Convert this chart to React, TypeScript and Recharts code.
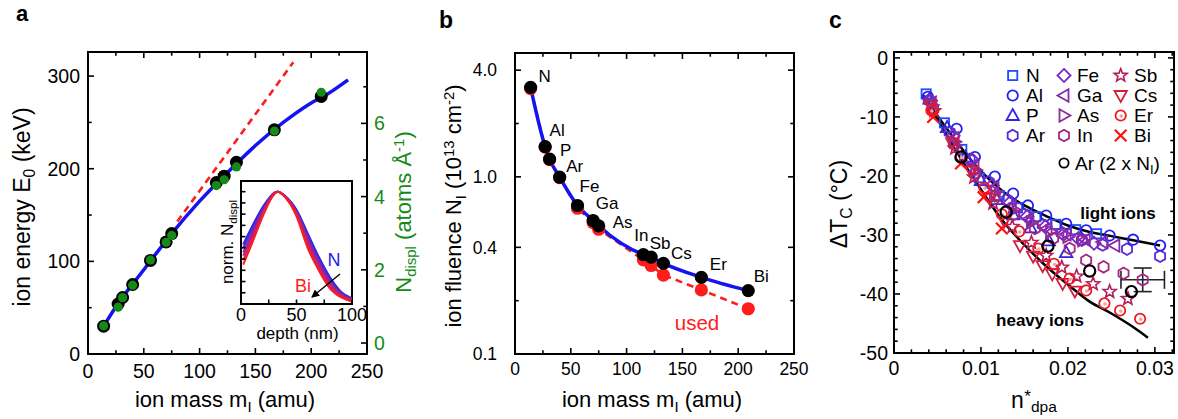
import React from "react";
import { ComposedChart, LineChart, Line, Scatter, XAxis, YAxis, ErrorBar } from "recharts";

const FONT = "'Liberation Sans', Arial, Helvetica, sans-serif";
const PAGE_W = 1178;
const PAGE_H = 419;
const GREEN = "#168a16";
const BLUE = "#1414f0";
const RED = "#ff1c1c";

// ---- panels a and b: one entry per ion ----
const ionNames = ["N", "Al", "P", "Ar", "Fe", "Ga", "As", "In", "Sb", "Cs", "Er", "Bi"];
const ionMass = [14, 27, 31, 40, 56, 70, 75, 115, 122, 133, 167, 209];
const ionEnergy = [30, 54, 61, 75, 101, 121, 130, 185, 192, 207, 242, 278];
const displPerAngstrom = [0.47, 0.98, 1.24, 1.58, 2.27, 2.75, 2.94, 4.3, 4.46, 4.81, 5.79, 6.85];
const energyFitMass = [13, 25, 50, 75, 100, 125, 150, 175, 200, 215, 233];
const energyFit = [28, 51, 91, 130, 165, 196, 225, 250, 271, 281, 296];
const linearMass = [80, 184];
const linearEnergy = [143, 315];
const fluenceCalc = [3.2, 1.48, 1.26, 0.995, 0.689, 0.567, 0.529, 0.364, 0.352, 0.325, 0.271, 0.228];
const fluenceUsed = [3.15, 1.47, 1.25, 0.99, 0.665, 0.552, 0.506, 0.34, 0.316, 0.279, 0.23, 0.18];

// ---- inset: normalised displacement profiles, N (blue) ... Bi (red) ----
const depth = [2, 10, 20, 30, 33, 40, 50, 60, 70, 80, 90, 100];
const profileN = [0.53, 0.69, 0.87, 0.99, 1.0, 0.96, 0.84, 0.63, 0.42, 0.24, 0.11, 0.05];
const profileAr = [0.5, 0.66, 0.85, 0.99, 1.0, 0.96, 0.83, 0.61, 0.4, 0.22, 0.1, 0.045];
const profileFe = [0.46, 0.63, 0.84, 0.99, 1.0, 0.955, 0.82, 0.59, 0.37, 0.2, 0.09, 0.04];
const profileAs = [0.43, 0.6, 0.82, 0.98, 1.0, 0.95, 0.81, 0.56, 0.35, 0.18, 0.08, 0.035];
const profileSb = [0.39, 0.57, 0.81, 0.98, 1.0, 0.95, 0.8, 0.53, 0.32, 0.16, 0.07, 0.03];
const profileBi = [0.35, 0.54, 0.79, 0.98, 1.0, 0.95, 0.78, 0.5, 0.3, 0.14, 0.06, 0.02];
const profiles = [profileN, profileAr, profileFe, profileAs, profileSb, profileBi];
const profileColors = ["#2424e8", "#5626cc", "#8624ac", "#ac2288", "#d62052", RED];

// ---- panel c: delta Tc vs n_dpa ----
const cN = [[0.0037, -6.1], [0.0058, -11.0], [0.0078, -15.5], [0.0098, -20.3], [0.0121, -23.3], [0.0142, -25.4], [0.0163, -26.9], [0.0186, -28.2], [0.0209, -29.1], [0.0233, -29.8]];
const cAl = [[0.0039, -6.6], [0.0072, -12.0], [0.0093, -16.8], [0.0116, -20.1], [0.0137, -23.0], [0.0154, -25.0], [0.0175, -26.7], [0.0198, -28.1], [0.0221, -29.2], [0.0248, -30.1], [0.0275, -30.8], [0.0306, -31.8]];
const cP = [[0.0041, -7.0], [0.0061, -11.8], [0.0082, -16.8], [0.01, -20.8], [0.0118, -24.0], [0.0137, -26.6], [0.0157, -28.8], [0.0178, -31.0], [0.0198, -33.0]];
const cAr = [[0.004, -7.2], [0.0064, -12.6], [0.0087, -17.2], [0.0109, -21.0], [0.013, -24.0], [0.015, -26.5], [0.0171, -28.3], [0.0193, -29.7], [0.0216, -30.9], [0.024, -31.7], [0.0268, -32.4], [0.0306, -33.6]];
const cFe = [[0.0042, -7.3], [0.0068, -13.2], [0.009, -17.3], [0.0113, -21.6], [0.0133, -24.6], [0.0153, -26.9], [0.0174, -28.6], [0.0195, -29.9], [0.0212, -30.6], [0.023, -31.4]];
const cGa = [[0.0043, -7.6], [0.0069, -13.6], [0.0092, -18.2], [0.0115, -22.0], [0.0135, -25.1], [0.0155, -27.3], [0.0176, -28.9], [0.0198, -29.9], [0.022, -30.8], [0.024, -31.2], [0.0254, -31.8]];
const cAs = [[0.0044, -8.0], [0.007, -14.2], [0.0094, -19.0], [0.0117, -22.7], [0.0138, -25.7], [0.0158, -27.9], [0.018, -29.4], [0.02, -30.3], [0.0217, -30.9]];
const cIn = [[0.0045, -8.5], [0.0069, -14.6], [0.0093, -19.6], [0.0116, -23.4], [0.0138, -26.5], [0.0162, -28.9], [0.0183, -30.6], [0.0202, -32.3], [0.0221, -34.3], [0.0241, -35.4], [0.0264, -36.5]];
const cInErr = [[0.0286, -37.6]];
const cInErrX = [0.0025];
const cInErrY = [2.0];
const cSb = [[0.0046, -9.0], [0.007, -15.3], [0.0092, -20.2], [0.0114, -24.6], [0.0136, -28.6], [0.0158, -31.3], [0.0175, -33.5], [0.0193, -35.5], [0.021, -37.0], [0.0229, -38.3], [0.0248, -39.6], [0.0269, -40.8]];
const cCs = [[0.0042, -8.0], [0.0067, -14.4], [0.0089, -19.2], [0.011, -23.8], [0.0127, -27.6], [0.0145, -31.8], [0.016, -33.6], [0.0171, -35.2], [0.0182, -36.6], [0.0194, -38.2], [0.0208, -39.5]];
const cEr = [[0.0043, -8.9], [0.0077, -16.8], [0.0104, -22.0], [0.0124, -26.5], [0.0144, -29.4], [0.0166, -32.3], [0.0184, -34.9], [0.0202, -37.4], [0.0221, -39.4], [0.0242, -41.6], [0.026, -42.8], [0.0283, -44.2]];
const cBi = [[0.0045, -10.0], [0.0077, -17.9], [0.0103, -23.6], [0.0124, -28.9]];
const cAr2 = [[0.0077, -16.8], [0.0129, -26.1], [0.0177, -31.9], [0.0225, -36.1], [0.0273, -39.6]];
const lightFit = [[0.0033, -6.3], [0.005, -9.8], [0.0075, -14.8], [0.01, -19.2], [0.0125, -22.6], [0.015, -25.0], [0.0175, -26.8], [0.02, -28.4], [0.0225, -29.5], [0.025, -30.2], [0.0275, -30.9], [0.0306, -31.8]];
const heavyFit = [[0.0033, -6.3], [0.005, -10.4], [0.0075, -16.6], [0.01, -22.3], [0.0125, -27.6], [0.015, -31.7], [0.0175, -35.3], [0.02, -38.4], [0.0225, -41.3], [0.025, -43.3], [0.0275, -45.6], [0.0292, -47.4]];

// ---- ticks ----
const massTicks = [0, 25, 50, 75, 100, 125, 150, 175, 200, 225, 250];
const massLabeled = [0, 50, 100, 150, 200, 250];
const massLabels = ["0", "50", "100", "150", "200", "250"];
const energyTicks = [0, 50, 100, 150, 200, 250, 300];
const energyLabeled = [0, 100, 200, 300];
const energyLabels = ["0", "100", "200", "300"];
const displTicks = [0, 1, 2, 3, 4, 5, 6, 7];
const displLabeled = [0, 2, 4, 6];
const displLabels = ["0", "2", "4", "6"];
const fluenceTicks = [0.1, 0.2, 0.4, 1, 2, 4];
const fluenceLabeled = [0.1, 0.4, 1, 4];
const fluenceLabels = ["0.1", "0.4", "1.0", "4.0"];
const dpaTicks = [0, 0.002, 0.004, 0.006, 0.008, 0.01, 0.012, 0.014, 0.016, 0.018, 0.02, 0.022, 0.024, 0.026, 0.028, 0.03, 0.032];
const dpaLabeled = [0, 0.01, 0.02, 0.03];
const dpaLabels = ["0", "0.01", "0.02", "0.03"];
const dTcTicks = [-50, -48, -46, -44, -42, -40, -38, -36, -34, -32, -30, -28, -26, -24, -22, -20, -18, -16, -14, -12, -10, -8, -6, -4, -2, 0];
const dTcLabeled = [-50, -40, -30, -20, -10, 0];
const dTcLabels = ["-50", "-40", "-30", "-20", "-10", "0"];
const depthTicks = [0, 25, 50, 75, 100];
const depthLabeled = [0, 50, 100];
const depthLabels = ["0", "50", "100"];
const normTicks = [0.1, 0.2, 0.3, 0.4, 0.5, 0.6, 0.7, 0.8, 0.9, 1.0];

type Pt = { x: number; y: number; name?: string };
const toXY = (xs: number[], ys: number[]): Pt[] => xs.map((x, i) => ({ x, y: ys[i] }));
const fromPairs = (p: number[][]): Pt[] => p.map(([x, y]) => ({ x, y }));

const labelFrom = (values: number[], texts: string[]) => (v: number) => {
  const i = values.findIndex((w) => Math.abs(w - v) < 1e-9);
  return i >= 0 ? texts[i] : null;
};
const onStep = (step: number) => (v: number) => Math.abs(v / step - Math.round(v / step)) < 1e-6;

type Side = "bottom" | "top" | "left" | "right";
type TickSpec = {
  side: Side;
  label?: (v: number) => string | null;
  major?: (v: number) => boolean;
  size?: number;
  offset?: number;
  color?: string;
  len?: number;
};

// ticks point inward, labels sit outside the frame
const makeTick = (s: TickSpec) => (props: any) => {
  const { x, y, payload } = props;
  const v = Number(payload?.value);
  const text = s.label ? s.label(v) : null;
  const major = s.major ? s.major(v) : text !== null;
  const full = s.len ?? 6;
  const len = major ? full : full * 0.62;
  const fs = s.size ?? 19;
  const off = s.offset ?? 8;
  let x2 = x;
  let y2 = y;
  if (s.side === "bottom") y2 = y - len;
  if (s.side === "top") y2 = y + len;
  if (s.side === "left") x2 = x + len;
  if (s.side === "right") x2 = x - len;
  let tx = x;
  let ty = y + off;
  let anchor: "middle" | "end" | "start" = "middle";
  if (s.side === "left") {
    tx = x - off;
    ty = y + fs * 0.36;
    anchor = "end";
  }
  if (s.side === "right") {
    tx = x + off;
    ty = y + fs * 0.36;
    anchor = "start";
  }
  return (
    <g>
      <line x1={x} y1={y} x2={x2} y2={y2} stroke="#000" strokeWidth={1.6} />
      {text !== null && (
        <text x={tx} y={ty} textAnchor={anchor} fontSize={fs} fontFamily={FONT} fill={s.color ?? "#000"}>
          {text}
        </text>
      )}
    </g>
  );
};

const axisCommon = {
  type: "number" as const,
  axisLine: false,
  tickLine: false,
  tickSize: 0,
  tickMargin: 0,
  interval: 0 as const,
  allowDataOverflow: true,
};

// ---- markers for panel c ----
type Kind = "square" | "circle" | "triUp" | "hexagon" | "diamond" | "triLeft" | "triRight" | "star" | "triDown" | "circleDot" | "cross" | "ring";

const poly = (cx: number, cy: number, pts: number[][]) => pts.map(([dx, dy]) => `${cx + dx},${cy + dy}`).join(" ");
const hexPts = [0, 1, 2, 3, 4, 5].map((k) => {
  const a = (Math.PI / 180) * (-90 + 60 * k);
  return [5.8 * Math.cos(a), 5.8 * Math.sin(a)];
});
const starPts = [0, 1, 2, 3, 4, 5, 6, 7, 8, 9].map((k) => {
  const a = (Math.PI / 180) * (-90 + 36 * k);
  const r = k % 2 === 0 ? 6.8 : 2.9;
  return [r * Math.cos(a), r * Math.sin(a)];
});

function Marker({ kind, cx, cy, color }: { kind: Kind; cx: number; cy: number; color: string }) {
  const st = { fill: "none", stroke: color, strokeWidth: 1.8 };
  switch (kind) {
    case "square":
      return <rect x={cx - 4.6} y={cy - 4.6} width={9.2} height={9.2} {...st} />;
    case "circle":
      return <circle cx={cx} cy={cy} r={5.2} {...st} />;
    case "triUp":
      return <polygon points={poly(cx, cy, [[0, -6.5], [6.2, 4.5], [-6.2, 4.5]])} {...st} />;
    case "triDown":
      return <polygon points={poly(cx, cy, [[0, 6.5], [6.2, -4.5], [-6.2, -4.5]])} {...st} />;
    case "triLeft":
      return <polygon points={poly(cx, cy, [[-6.5, 0], [4.5, -6.2], [4.5, 6.2]])} {...st} />;
    case "triRight":
      return <polygon points={poly(cx, cy, [[6.5, 0], [-4.5, -6.2], [-4.5, 6.2]])} {...st} />;
    case "hexagon":
      return <polygon points={poly(cx, cy, hexPts)} {...st} />;
    case "diamond":
      return <polygon points={poly(cx, cy, [[0, -6.6], [6.6, 0], [0, 6.6], [-6.6, 0]])} {...st} />;
    case "star":
      return <polygon points={poly(cx, cy, starPts)} {...st} strokeWidth={1.6} />;
    case "circleDot":
      return (
        <g>
          <circle cx={cx} cy={cy} r={5.2} {...st} />
          <circle cx={cx + 0.6} cy={cy + 0.6} r={1.8} fill="#f3a3a3" />
        </g>
      );
    case "cross":
      return (
        <g stroke={color} strokeWidth={2.2}>
          <line x1={cx - 5.8} y1={cy - 5.8} x2={cx + 5.8} y2={cy + 5.8} />
          <line x1={cx - 5.8} y1={cy + 5.8} x2={cx + 5.8} y2={cy - 5.8} />
        </g>
      );
    default:
      return <circle cx={cx} cy={cy} r={5.6} fill="none" stroke={color} strokeWidth={2.2} />;
  }
}

const cSeries: { name: string; kind: Kind; color: string; data: number[][] }[] = [
  { name: "N", kind: "square", color: "#1f4cff", data: cN },
  { name: "Al", kind: "circle", color: "#2020f4", data: cAl },
  { name: "P", kind: "triUp", color: "#3522e2", data: cP },
  { name: "Ar", kind: "hexagon", color: "#5a2ad0", data: cAr },
  { name: "Fe", kind: "diamond", color: "#782ac0", data: cFe },
  { name: "Ga", kind: "triLeft", color: "#8628ac", data: cGa },
  { name: "As", kind: "triRight", color: "#92289c", data: cAs },
  { name: "In", kind: "hexagon", color: "#a42880", data: cIn },
  { name: "Sb", kind: "star", color: "#b01e5c", data: cSb },
  { name: "Cs", kind: "triDown", color: "#d41e3c", data: cCs },
  { name: "Er", kind: "circleDot", color: "#ec1c22", data: cEr },
  { name: "Bi", kind: "cross", color: "#ff0f0f", data: cBi },
];

const ionLabelOffset: Record<string, number[]> = {
  N: [14, -11], Al: [12, -17], P: [16, -9], Ar: [15, -11], Fe: [12, -19], Ga: [14, -17],
  As: [24, -4], In: [-2, -20], Sb: [9, -14], Cs: [18, -10], Er: [17, -13], Bi: [13, -15],
};

const layer: React.CSSProperties = { position: "absolute", left: 0, top: 0 };

function Frame({ x0, y0, x1, y1, bg }: { x0: number; y0: number; x1: number; y1: number; bg?: string }) {
  return (
    <div
      style={{
        position: "absolute",
        left: x0 - 1,
        top: y0 - 1,
        width: x1 - x0 + 2,
        height: y1 - y0 + 2,
        border: "2px solid #000",
        boxSizing: "border-box",
        background: bg ?? "transparent",
      }}
    />
  );
}

const Sub = ({ children }: { children: React.ReactNode }) => (
  <span style={{ fontSize: "0.68em", position: "relative", top: "0.32em" }}>{children}</span>
);
const Sup = ({ children }: { children: React.ReactNode }) => (
  <span style={{ fontSize: "0.68em", position: "relative", top: "-0.45em" }}>{children}</span>
);

function HText({ cx, baseline, size, color, bold, children }: { cx: number; baseline: number; size: number; color?: string; bold?: boolean; children: React.ReactNode }) {
  return (
    <div
      style={{
        position: "absolute",
        left: cx,
        top: baseline - 0.8465 * size,
        transform: "translateX(-50%)",
        fontSize: size,
        lineHeight: `${size}px`,
        fontFamily: FONT,
        color: color ?? "#000",
        fontWeight: bold ? 700 : 400,
        whiteSpace: "nowrap",
      }}
    >
      {children}
    </div>
  );
}

function VText({ cx, cy, size, color, children }: { cx: number; cy: number; size: number; color?: string; children: React.ReactNode }) {
  return (
    <div
      style={{
        position: "absolute",
        left: cx,
        top: cy,
        transform: "translate(-50%, -50%) rotate(-90deg)",
        fontSize: size,
        lineHeight: `${size}px`,
        fontFamily: FONT,
        color: color ?? "#000",
        whiteSpace: "nowrap",
      }}
    >
      {children}
    </div>
  );
}

function PanelA() {
  const pts = ionMass.map((m, i) => ({ x: m, y: ionEnergy[i] }));
  const green = ionMass.map((m, i) => ({ x: m, y: displPerAngstrom[i] }));
  return (
    <div style={layer}>
      <ComposedChart width={PAGE_W} height={PAGE_H} margin={{ top: 0, right: 0, bottom: 0, left: 0 }}>
        <XAxis xAxisId="b" dataKey="x" domain={[0, 250]} ticks={massTicks} height={65}
          tick={makeTick({ side: "bottom", label: labelFrom(massLabeled, massLabels), size: 19.5, offset: 24 })} {...axisCommon} />
        <XAxis xAxisId="t" orientation="top" dataKey="x" domain={[0, 250]} ticks={massTicks} height={52}
          tick={makeTick({ side: "top", major: onStep(50) })} {...axisCommon} />
        <YAxis yAxisId="l" dataKey="y" domain={[0, 326]} ticks={energyTicks} width={88}
          tick={makeTick({ side: "left", label: labelFrom(energyLabeled, energyLabels), size: 19.5, offset: 8 })} {...axisCommon} />
        <YAxis yAxisId="g" orientation="right" dataKey="y" domain={[-0.3, 7.95]} ticks={displTicks} width={PAGE_W - 367}
          tick={makeTick({ side: "right", label: labelFrom(displLabeled, displLabels), size: 19.5, offset: 7, color: GREEN })} {...axisCommon} />
        <Line xAxisId="b" yAxisId="l" data={toXY(energyFitMass, energyFit)} dataKey="y" type="monotone"
          stroke={BLUE} strokeWidth={3.5} dot={false} isAnimationActive={false} />
        <Line xAxisId="b" yAxisId="l" data={toXY(linearMass, linearEnergy)} dataKey="y" type="linear"
          stroke={RED} strokeWidth={2.6} strokeDasharray="7 5" dot={false} isAnimationActive={false} />
        <Scatter xAxisId="b" yAxisId="l" data={pts} dataKey="y" isAnimationActive={false}
          shape={(p: any) => <circle cx={p.cx} cy={p.cy} r={6.5} fill="#000" />} />
        <Scatter xAxisId="b" yAxisId="g" data={green} dataKey="y" isAnimationActive={false}
          shape={(p: any) => <circle cx={p.cx} cy={p.cy} r={4.6} fill={GREEN} />} />
      </ComposedChart>
    </div>
  );
}

function Inset() {
  return (
    <div style={layer}>
      <LineChart width={PAGE_W} height={PAGE_H} margin={{ top: 181, right: PAGE_W - 352, bottom: 0, left: 0 }}>
        <XAxis dataKey="x" domain={[0, 100]} ticks={depthTicks} height={PAGE_H - 304}
          tick={makeTick({ side: "bottom", label: labelFrom(depthLabeled, depthLabels), size: 18, offset: 17, major: () => true, len: 4.5 })} {...axisCommon} />
        <YAxis dataKey="y" domain={[0, 1.095]} ticks={normTicks} width={241}
          tick={makeTick({ side: "left", major: () => true, len: 4.5 })} {...axisCommon} />
        {profiles.map((prof, i) => (
          <Line key={i} data={toXY(depth, prof)} dataKey="y" type="monotone" stroke={profileColors[i]}
            strokeWidth={2} dot={false} isAnimationActive={false} />
        ))}
      </LineChart>
    </div>
  );
}

function PanelB() {
  const calc: Pt[] = ionMass.map((m, i) => ({ x: m, y: fluenceCalc[i], name: ionNames[i] }));
  const used: Pt[] = ionMass.map((m, i) => ({ x: m, y: fluenceUsed[i] }));
  return (
    <div style={layer}>
      <ComposedChart width={PAGE_W} height={PAGE_H} margin={{ top: 0, right: 0, bottom: 0, left: 0 }}>
        <XAxis xAxisId="b" dataKey="x" domain={[0, 250]} ticks={massTicks} height={65}
          tick={makeTick({ side: "bottom", label: labelFrom(massLabeled, massLabels), size: 17.5, offset: 21 })} {...axisCommon} />
        <XAxis xAxisId="t" orientation="top" dataKey="x" domain={[0, 250]} ticks={massTicks} height={53}
          tick={makeTick({ side: "top", major: onStep(50) })} {...axisCommon} />
        <YAxis yAxisId="l" dataKey="y" scale="log" domain={[0.1, 5]} ticks={fluenceTicks} width={515}
          tick={makeTick({ side: "left", label: labelFrom(fluenceLabeled, fluenceLabels), size: 17.5, offset: 18 })} {...axisCommon} />
        <YAxis yAxisId="r" orientation="right" dataKey="y" scale="log" domain={[0.1, 5]} ticks={fluenceTicks} width={PAGE_W - 794}
          tick={makeTick({ side: "right", major: (v) => fluenceLabeled.includes(v) })} {...axisCommon} />
        <Line xAxisId="b" yAxisId="l" data={used} dataKey="y" type="linear" stroke={RED} strokeWidth={2.6}
          strokeDasharray="7 5" dot={false} isAnimationActive={false} />
        <Scatter xAxisId="b" yAxisId="l" data={used} dataKey="y" isAnimationActive={false}
          shape={(p: any) => <circle cx={p.cx} cy={p.cy} r={6.6} fill={RED} />} />
        <Line xAxisId="b" yAxisId="l" data={calc} dataKey="y" type="monotone" stroke={BLUE} strokeWidth={3.5}
          dot={false} isAnimationActive={false} />
        <Scatter xAxisId="b" yAxisId="l" data={calc} dataKey="y" isAnimationActive={false}
          shape={(p: any) => {
            const name = p.payload?.name ?? "";
            const off = ionLabelOffset[name] ?? [12, -12];
            return (
              <g>
                <circle cx={p.cx} cy={p.cy} r={6.6} fill="#000" />
                <text x={p.cx + off[0]} y={p.cy + off[1] + 6} textAnchor="middle" fontSize={17} fontFamily={FONT} fill="#000">
                  {name}
                </text>
              </g>
            );
          }} />
      </ComposedChart>
    </div>
  );
}

function PanelC() {
  return (
    <div style={layer}>
      <ComposedChart width={PAGE_W} height={PAGE_H} margin={{ top: 0, right: 0, bottom: 0, left: 0 }}>
        <XAxis xAxisId="b" dataKey="x" domain={[0, 0.0322]} ticks={dpaTicks} height={PAGE_H - 353}
          tick={makeTick({ side: "bottom", label: labelFrom(dpaLabeled, dpaLabels), size: 19.5, offset: 22 })} {...axisCommon} />
        <XAxis xAxisId="t" orientation="top" dataKey="x" domain={[0, 0.0322]} ticks={dpaTicks} height={52}
          tick={makeTick({ side: "top", major: onStep(0.01) })} {...axisCommon} />
        <YAxis yAxisId="l" dataKey="y" domain={[-50, 1]} ticks={dTcTicks} width={894}
          tick={makeTick({ side: "left", label: labelFrom(dTcLabeled, dTcLabels), size: 19.5, offset: 6 })} {...axisCommon} />
        <YAxis yAxisId="r" orientation="right" dataKey="y" domain={[-50, 1]} ticks={dTcTicks} width={PAGE_W - 1174}
          tick={makeTick({ side: "right", major: onStep(10) })} {...axisCommon} />
        <Line xAxisId="b" yAxisId="l" data={fromPairs(lightFit)} dataKey="y" type="monotone" stroke="#000"
          strokeWidth={2.5} dot={false} isAnimationActive={false} />
        <Line xAxisId="b" yAxisId="l" data={fromPairs(heavyFit)} dataKey="y" type="monotone" stroke="#000"
          strokeWidth={2.5} dot={false} isAnimationActive={false} />
        {cSeries.map((s) => (
          <Scatter key={s.name} xAxisId="b" yAxisId="l" data={fromPairs(s.data)} dataKey="y" isAnimationActive={false}
            shape={(p: any) => <Marker kind={s.kind} cx={p.cx} cy={p.cy} color={s.color} />} />
        ))}
        <Scatter xAxisId="b" yAxisId="l" data={cInErr.map(([x, y], i) => ({ x, y, ex: cInErrX[i], ey: cInErrY[i] }))}
          dataKey="y" isAnimationActive={false}
          shape={(p: any) => <Marker kind="hexagon" cx={p.cx} cy={p.cy} color="#a42880" />}>
          <ErrorBar dataKey="ey" direction="y" width={9} stroke="#222" strokeWidth={1.6} />
          <ErrorBar dataKey="ex" direction="x" width={9} stroke="#222" strokeWidth={1.6} />
        </Scatter>
        <Scatter xAxisId="b" yAxisId="l" data={fromPairs(cAr2)} dataKey="y" isAnimationActive={false}
          shape={(p: any) => <Marker kind="ring" cx={p.cx} cy={p.cy} color="#000" />} />
      </ComposedChart>
    </div>
  );
}

const legendRowY = [75.5, 95.5, 115.5, 135.5];
const legendMarkerX = [1012.7, 1064, 1120.7];
const legendTextX = [1026, 1077, 1134];

function Overlay() {
  return (
    <svg width={PAGE_W} height={PAGE_H} style={{ ...layer, pointerEvents: "none" }} fontFamily={FONT}>
      <text x={16} y={21} fontSize={22} fontWeight={700}>a</text>
      <text x={439} y={28} fontSize={23} fontWeight={700}>b</text>
      <text x={829} y={28} fontSize={23} fontWeight={700}>c</text>
      <text x={697} y={330} fontSize={20.5} fill={RED} textAnchor="middle">used</text>
      {cSeries.map((s, i) => {
        const col = Math.floor(i / 4);
        const row = i % 4;
        return (
          <g key={s.name}>
            <Marker kind={s.kind} cx={legendMarkerX[col]} cy={legendRowY[row]} color={s.color} />
            <text x={legendTextX[col]} y={legendRowY[row] + 6.8} fontSize={19}>{s.name}</text>
          </g>
        );
      })}
      <circle cx={1064} cy={163} r={4.6} fill="none" stroke="#000" strokeWidth={1.8} />
      <text x={1075} y={170} fontSize={19}>
        Ar (2 x N<tspan fontSize={13} dy={4}>I</tspan><tspan dy={-4}>)</tspan>
      </text>
      <text x={1118} y={219} fontSize={17} fontWeight={700} textAnchor="middle">light ions</text>
      <text x={1040} y={325.5} fontSize={17} fontWeight={700} textAnchor="middle">heavy ions</text>
      <text x={334} y={266} fontSize={18} fill="#2020f0" textAnchor="middle">N</text>
      <text x={303} y={292} fontSize={18} fill={RED} textAnchor="middle">Bi</text>
      <defs>
        <marker id="arrowHead" markerWidth="8" markerHeight="8" refX="7" refY="4" orient="auto" markerUnits="userSpaceOnUse">
          <path d="M0,0 L8,4 L0,8 z" fill="#000" />
        </marker>
      </defs>
      <line x1={340} y1={274} x2={312} y2={297} stroke="#000" strokeWidth={1.4} markerEnd="url(#arrowHead)" />
      <text x={297.5} y={339} fontSize={17} textAnchor="middle">depth (nm)</text>
      <text x={1011} y={408} fontSize={23}>
        n<tspan fontSize={17} dx={0.5} dy={-6}>*</tspan>
        <tspan fontSize={15.5} dx={0} dy={10}>dpa</tspan>
      </text>
    </svg>
  );
}

export default function App() {
  return (
    <div style={{ position: "absolute", left: 0, top: 0, width: PAGE_W, height: PAGE_H, background: "#fff", overflow: "hidden", fontFamily: FONT }}>
      <Frame x0={88} y0={52} x1={367} y1={354} />
      <Frame x0={515} y0={53} x1={794} y1={354} />
      <Frame x0={894} y0={52} x1={1174} y1={353} />
      <PanelA />
      <PanelB />
      <PanelC />
      <Frame x0={241} y0={181} x1={352} y1={304} bg="#fff" />
      <Inset />
      <Overlay />

      <HText cx={225} baseline={408} size={22}>
        ion mass m<Sub>I</Sub> (amu)
      </HText>
      <VText cx={23} cy={207} size={23}>
        ion energy E<Sub>0</Sub> (keV)
      </VText>
      <VText cx={405} cy={212} size={22} color={GREEN}>
        N<Sub>displ</Sub> (atoms Å<Sup>-1</Sup>)
      </VText>
      <VText cx={228} cy={242} size={17}>
        norm. N<Sub>displ</Sub>
      </VText>

      <HText cx={652} baseline={408} size={22}>
        ion mass m<Sub>I</Sub> (amu)
      </HText>
      <VText cx={455} cy={206} size={22}>
        ion fluence N<Sub>I</Sub> (10<Sup>13</Sup> cm<Sup>-2</Sup>)
      </VText>

      <VText cx={840} cy={204} size={23}>
        ΔT<Sub>C</Sub> (°C)
      </VText>
    </div>
  );
}
